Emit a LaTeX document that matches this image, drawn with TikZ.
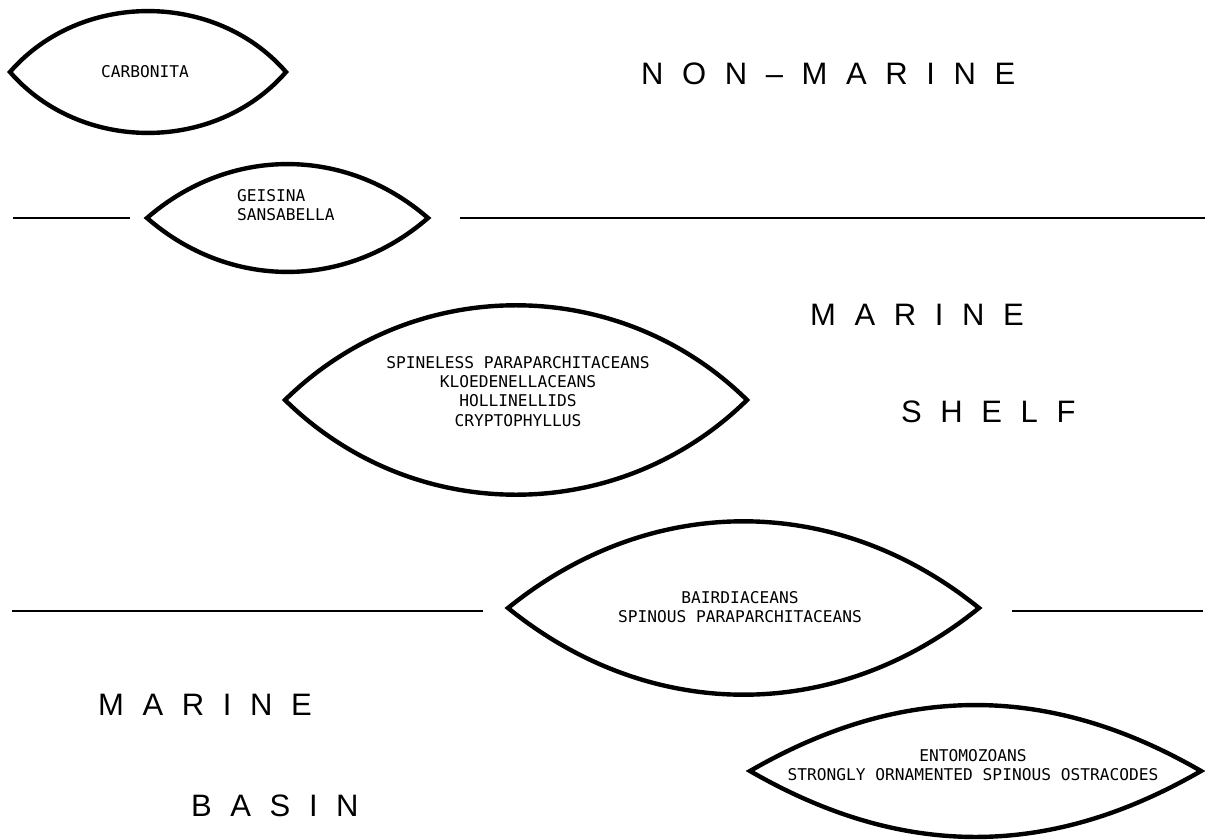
\documentclass[tikz,border=0pt]{standalone}
\usepackage{fontspec}
\setmainfont{Liberation Sans}
\newfontfamily\taxfont{DejaVu Sans Mono}
\newfontfamily\zonefont[LetterSpace=60]{Liberation Sans}
\begin{document}
\begin{tikzpicture}[x=1pt, y=-1pt,
	lens/.style={line width=4.4pt},
	rule/.style={line width=1.6pt},
	taxon/.style={inner sep=0pt, align=center, font=\taxfont\fontsize{16.2}{19.3}\selectfont},
	zone/.style={inner sep=0pt, anchor=base west, font=\zonefont\fontsize{31}{31}\selectfont}]
		\useasboundingbox (0,0) rectangle (1205,840);
		
		% linee di confine
		\coordinate (r1a) at (13,218);
		\coordinate (r1b) at (130,218);
		\coordinate (r1c) at (460,218);
		\coordinate (r1d) at (1205,218);
		\coordinate (r2a) at (12,611);
		\coordinate (r2b) at (483,611);
		\coordinate (r2c) at (1012,611);
		\coordinate (r2d) at (1203,611);
		\draw[rule] (r1a) -- (r1b);
		\draw[rule] (r1c) -- (r1d);
		\draw[rule] (r2a) -- (r2b);
		\draw[rule] (r2c) -- (r2d);
		
		% punte delle lenti
		\coordinate (carbW) at (10,72);
		\coordinate (carbE) at (286,72);
		\coordinate (geisW) at (147,218);
		\coordinate (geisE) at (428,218);
		\coordinate (spinW) at (285,400);
		\coordinate (spinE) at (747,400);
		\coordinate (bairW) at (508,608);
		\coordinate (bairE) at (979,608);
		\coordinate (entoW) at (750,771);
		\coordinate (entoE) at (1201,771);
		
		% lenti
		\draw[lens] (carbW) to[bend left=49] (carbE) to[bend left=49] cycle;
		\draw[lens] (geisW) to[bend left=41] (geisE) to[bend left=41] cycle;
		\draw[lens] (spinW) to[bend left=44.5] (spinE) to[bend left=44.5] cycle;
		\draw[lens] (bairW) to[bend left=39] (bairE) to[bend left=39] cycle;
		\draw[lens] (entoW) to[bend left=30] (entoE) to[bend left=30] cycle;
		
		% gruppi di ostracodi
		\node[taxon] (carb) at (145,72) {CARBONITA};
		\node[taxon, anchor=north west, align=left] (geis) at (237,189) {GEISINA\\SANSABELLA};
		\node[taxon, anchor=north] (spin) at (518,356) {SPINELESS PARAPARCHITACEANS\\KLOEDENELLACEANS\\HOLLINELLIDS\\CRYPTOPHYLLUS};
		\node[taxon, anchor=north] (bair) at (740,591) {BAIRDIACEANS\\SPINOUS PARAPARCHITACEANS};
		\node[taxon, anchor=north] (ento) at (973,749) {ENTOMOZOANS\\STRONGLY ORNAMENTED SPINOUS OSTRACODES};
		
		% ambienti
		\node[zone] (nonmar) at (641,85) {NON–MARINE};
		\node[zone] (marshelf) at (810,325) {MARINE};
		\node[zone] (shelf) at (901,422) {SHELF};
		\node[zone] (marbas) at (98,715) {MARINE};
		\node[zone] (basin) at (191,816) {BASIN};
		
	\end{tikzpicture}
\end{document}
